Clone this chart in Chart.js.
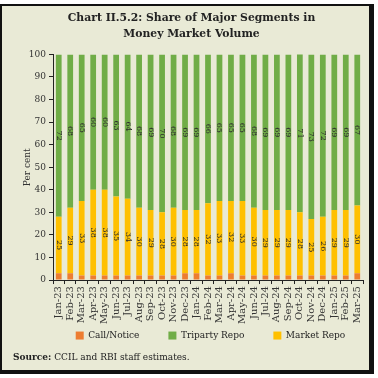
<!DOCTYPE html>
<html>
<head>
<meta charset="utf-8">
<script src="https://cdn.jsdelivr.net/npm/chart.js@4.4.1/dist/chart.umd.min.js"></script>
<style>
  html, body { margin: 0; padding: 0; background: #ffffff; }
  #frame {
    position: absolute; left: 0; top: 4px; width: 367px; height: 364px;
    background: #e9ead6; border: 2px solid #111; border-right-width: 5px; border-bottom-width: 4px;
  }
  #wrap { position: absolute; left: 0; top: 0; width: 378px; height: 378px; }
  #source {
    position: absolute; left: 13px; top: 352px;
    font-family: "DejaVu Serif", serif; font-size: 9px; color: #222;
  }
</style>
</head>
<body>
<div id="frame"></div>
<div id="wrap"><canvas id="chart" width="378" height="378"></canvas></div>
<div id="source"><b>Source:</b> CCIL and RBI staff estimates.</div>
<script>
const months = ['Jan-23', 'Feb-23', 'Mar-23', 'Apr-23', 'May-23', 'Jun-23', 'Jul-23', 'Aug-23', 'Sep-23',
    'Oct-23', 'Nov-23', 'Dec-23', 'Jan-24', 'Feb-24', 'Mar-24', 'Apr-24', 'May-24', 'Jun-24', 'Jul-24',
    'Aug-24', 'Sep-24', 'Oct-24', 'Nov-24', 'Dec-24', 'Jan-25', 'Feb-25', 'Mar-25'];
const callNotice = [3, 3, 2, 2, 2, 2, 2, 2, 2, 2, 2, 3, 3, 2, 2, 3, 2, 2, 2, 2, 2, 2, 2, 2, 2, 2, 3];
const marketRepo = [25, 29, 33, 38, 38, 35, 34, 30, 29, 28, 30, 28, 28, 32, 33, 32, 33, 30, 29, 29, 29, 28, 25, 26, 29, 29, 30];
const triparty = [72, 68, 65, 60, 60, 63, 64, 68, 69, 70, 68, 69, 69, 66, 65, 65, 65, 68, 69, 69, 69, 71, 73, 72, 69, 69, 67];
const yTicks = [0, 10, 20, 30, 40, 50, 60, 70, 80, 90, 100];

const serif = '"DejaVu Serif", serif';
const legendOrder = ['Call/Notice', 'Triparty Repo', 'Market Repo'];

// draws the rotated value labels in the middle of each segment
const barLabels = {
    id: 'barLabels',
    afterDatasetsDraw(chart) {
        const ctx = chart.ctx;
        [1, 2].forEach(i => {
            const meta = chart.getDatasetMeta(i);
            meta.data.forEach((bar, j) => {
                const p = bar.getProps(['x', 'y', 'base'], true);
                const top = Math.max(p.y, chart.chartArea.top);
                ctx.save();
                ctx.translate(p.x, (top + p.base) / 2);
                ctx.rotate(Math.PI / 2);
                ctx.font = '8px ' + serif;
                ctx.fillStyle = '#2b2b2b';
                ctx.textAlign = 'center';
                ctx.textBaseline = 'middle';
                ctx.fillText(chart.data.datasets[i].data[j], 0, 0);
                ctx.restore();
            });
        });
    }
};

// legend sits centred under the plot and tucks up under the month labels
const legendShift = {
    id: 'legendShift',
    afterLayout(chart) {
        const lg = chart.legend;
        const up = lg.top - (chart.chartArea.bottom + 22);
        lg.left += 19;
        lg.right += 19;
        lg.top -= up;
        lg.bottom -= up;
    }
};

new Chart(document.getElementById('chart'), {
    type: 'bar',
    data: {
        labels: months,
        datasets: [
            { label: 'Call/Notice', data: callNotice, backgroundColor: '#ed7d31' },
            { label: 'Market Repo', data: marketRepo, backgroundColor: '#ffc000' },
            { label: 'Triparty Repo', data: triparty, backgroundColor: '#70ad47' }
        ]
    },
    options: {
        responsive: false,
        animation: false,
        datasets: { bar: { categoryPercentage: 1, barPercentage: 0.5 } },
        layout: { padding: { left: 20, right: 15, top: 10, bottom: 4 } },
        scales: {
            x: {
                stacked: true,
                grid: { display: true, drawOnChartArea: false, tickLength: 4, color: '#222', offset: true },
                border: { color: '#222', width: 1 },
                ticks: { autoSkip: false, font: { family: serif, size: 10 }, color: '#333', maxRotation: 90, minRotation: 90, padding: 2 }
            },
            y: {
                stacked: true,
                min: 0,
                max: 100,
                afterFit: axis => { axis.width = 33; },
                afterBuildTicks: axis => { axis.ticks = yTicks.map(v => ({ value: v })); },
                grid: { display: true, drawOnChartArea: false, tickLength: 4, color: '#222' },
                border: { color: '#222', width: 1 },
                ticks: { font: { family: serif, size: 9 }, color: '#333', padding: 3 },
                title: { display: true, text: 'Per cent', font: { family: serif, size: 9 }, color: '#333', padding: 2 }
            }
        },
        plugins: {
            title: {
                display: true,
                text: ['Chart II.5.2: Share of Major Segments in', 'Money Market Volume'],
                font: { family: serif, size: 10.8, weight: 'bold', lineHeight: 1.5 },
                color: '#222',
                padding: { top: 0, bottom: 12 }
            },
            legend: {
                position: 'bottom',
                labels: {
                    boxWidth: 8,
                    boxHeight: 8,
                    padding: 29,
                    font: { family: serif, size: 9 },
                    color: '#222',
                    sort: (a, b) => legendOrder.indexOf(a.text) - legendOrder.indexOf(b.text)
                }
            },
            tooltip: { enabled: false }
        }
    },
    plugins: [barLabels, legendShift]
});
</script>
</body>
</html>
